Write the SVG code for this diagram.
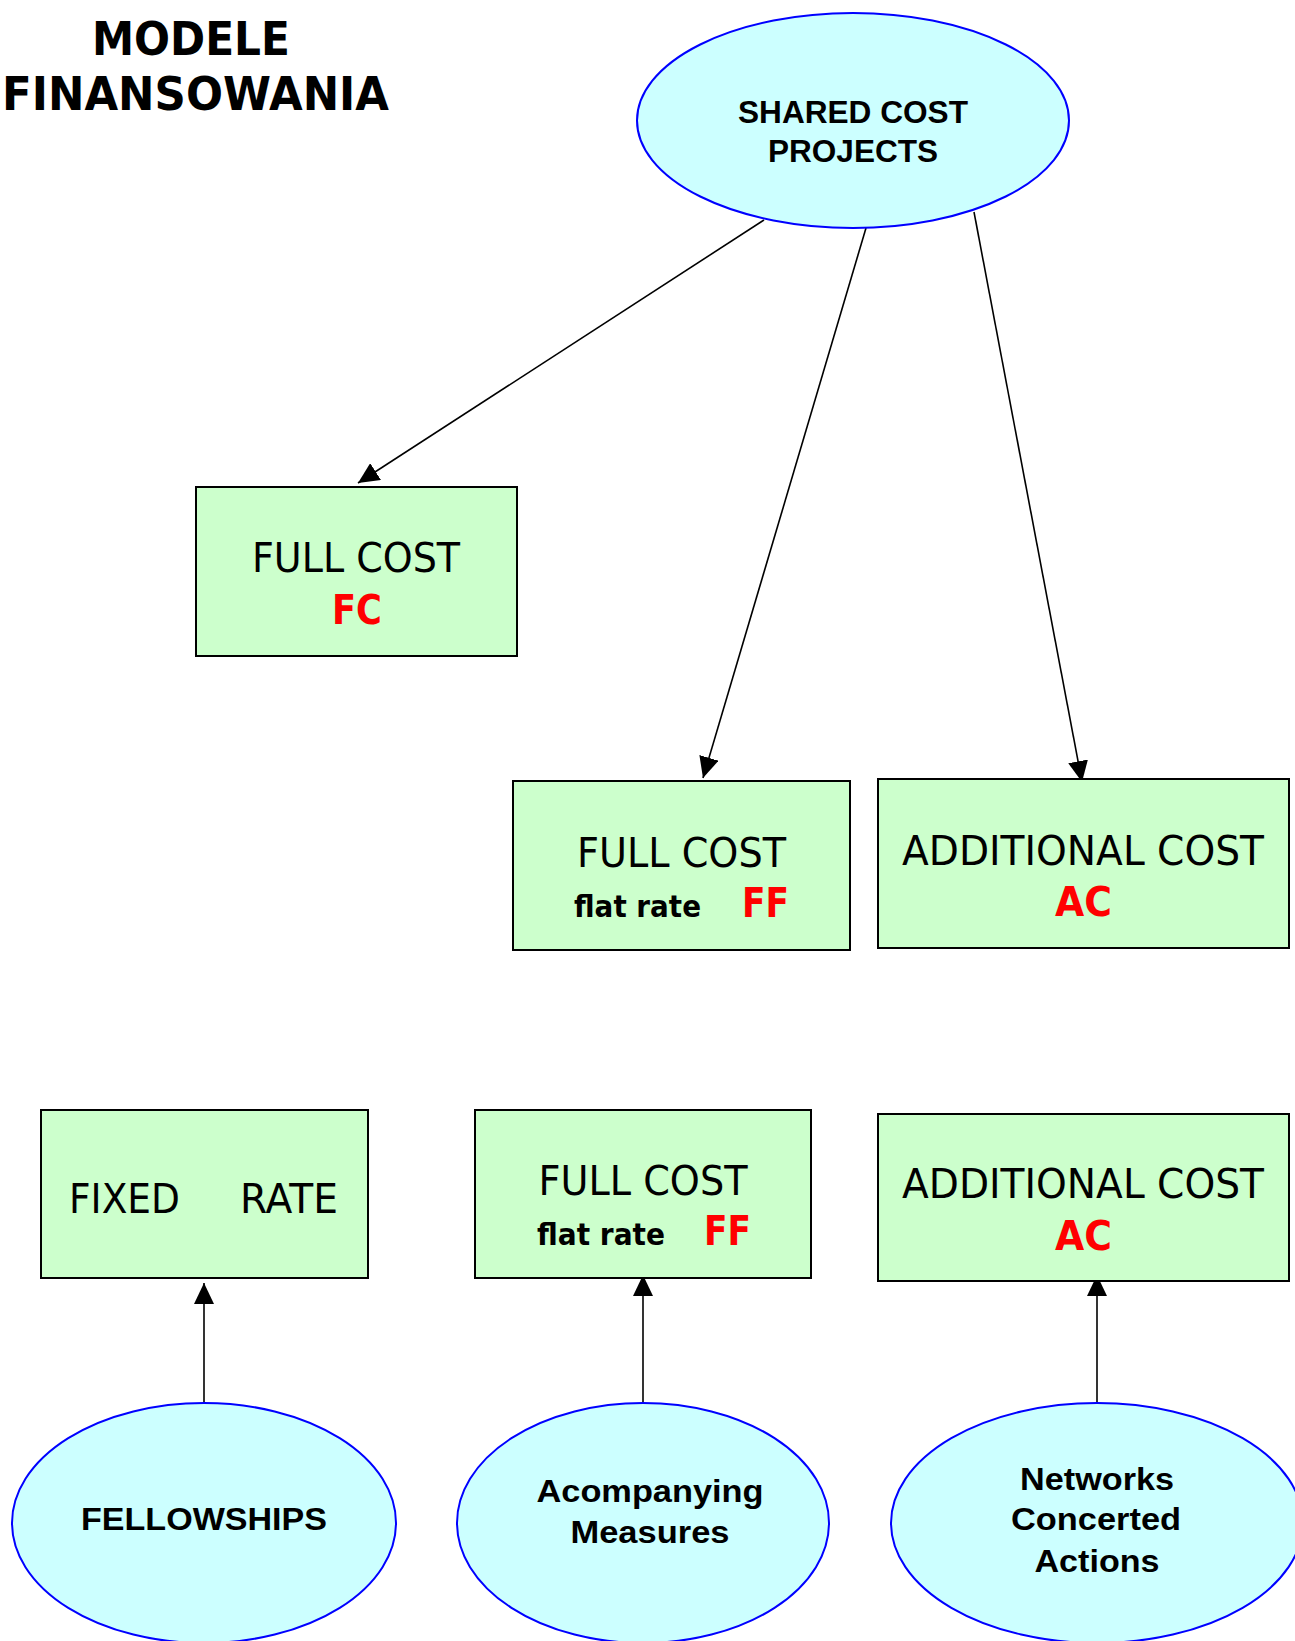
<svg xmlns="http://www.w3.org/2000/svg" width="1295" height="1641" viewBox="0 0 1295 1641">
<style>
.box{fill:#CCFFCC;stroke:#000;stroke-width:2}
.ell{fill:#CCFFFF;stroke:#0000FF;stroke-width:2}
.title{font-family:"DejaVu Sans",Verdana,sans-serif;font-weight:bold;font-size:46px;fill:#000;text-anchor:middle}
.et{font-family:"Liberation Sans",Arial,sans-serif;font-weight:bold;font-size:32px;fill:#000;text-anchor:middle}
.bt{font-family:"DejaVu Sans",Tahoma,sans-serif;font-size:41px;fill:#000;text-anchor:middle}
.red{font-family:"DejaVu Sans",Tahoma,sans-serif;font-weight:bold;font-size:41px;fill:#FF0000}
.fr{font-family:"DejaVu Sans",Tahoma,sans-serif;font-weight:bold;font-size:30px;fill:#000}
.conn{stroke:#000;stroke-width:1.6;fill:none;marker-end:url(#arr)}
</style>
<defs>
<marker id="arr" markerUnits="userSpaceOnUse" markerWidth="21" markerHeight="20" refX="21" refY="10" orient="auto">
<path d="M0,0 L21,10 L0,20 z" fill="#000"/>
</marker>
</defs>
<g id="title">
<text class="title" x="191" y="55" textLength="198" lengthAdjust="spacingAndGlyphs">MODELE</text>
<text class="title" style="text-anchor:start" x="2" y="110" textLength="387" lengthAdjust="spacingAndGlyphs">FINANSOWANIA</text>
</g>
<g id="connectors">
<line class="conn" x1="764" y1="220" x2="358" y2="483"/>
<line class="conn" x1="866" y1="228" x2="703" y2="778"/>
<line class="conn" x1="974" y1="212" x2="1082" y2="782"/>
<line class="conn" x1="204" y1="1403" x2="204" y2="1283"/>
<line class="conn" x1="643" y1="1403" x2="643" y2="1275"/>
<line class="conn" x1="1097" y1="1403" x2="1097" y2="1275"/>
</g>
<g id="shared-cost-projects">
<ellipse class="ell" cx="853" cy="120.5" rx="216" ry="107.5"/>
<text class="et" x="853" y="123" style="font-size:31.5px" textLength="230" lengthAdjust="spacingAndGlyphs">SHARED COST</text>
<text class="et" x="853" y="162" style="font-size:31.5px" textLength="170" lengthAdjust="spacingAndGlyphs">PROJECTS</text>
</g>
<g id="full-cost-fc">
<rect class="box" x="196" y="487" width="321" height="169"/>
<text class="bt" x="356" y="572" textLength="208" lengthAdjust="spacingAndGlyphs">FULL COST</text>
<text class="red" x="332" y="624" textLength="50" lengthAdjust="spacingAndGlyphs">FC</text>
</g>
<g id="full-cost-ff-1">
<rect class="box" x="513" y="781" width="337" height="169"/>
<text class="bt" x="681.5" y="867" textLength="209" lengthAdjust="spacingAndGlyphs">FULL COST</text>
<text class="fr" x="574" y="917" textLength="127" lengthAdjust="spacingAndGlyphs">flat rate</text>
<text class="red" x="742" y="917" textLength="47" lengthAdjust="spacingAndGlyphs">FF</text>
</g>
<g id="additional-cost-ac-1">
<rect class="box" x="878" y="779" width="411" height="169"/>
<text class="bt" x="1083" y="865" textLength="362" lengthAdjust="spacingAndGlyphs">ADDITIONAL COST</text>
<text class="red" x="1055" y="916" textLength="57" lengthAdjust="spacingAndGlyphs">AC</text>
</g>
<g id="fixed-rate">
<rect class="box" x="41" y="1110" width="327" height="168"/>
<text class="bt" style="text-anchor:start" y="1213"><tspan x="69" textLength="111" lengthAdjust="spacingAndGlyphs">FIXED</tspan><tspan x="240" textLength="98" lengthAdjust="spacingAndGlyphs">RATE</tspan></text>
</g>
<g id="full-cost-ff-2">
<rect class="box" x="475" y="1110" width="336" height="168"/>
<text class="bt" x="643" y="1195" textLength="209" lengthAdjust="spacingAndGlyphs">FULL COST</text>
<text class="fr" x="537" y="1245" textLength="128" lengthAdjust="spacingAndGlyphs">flat rate</text>
<text class="red" x="704" y="1245" textLength="47" lengthAdjust="spacingAndGlyphs">FF</text>
</g>
<g id="additional-cost-ac-2">
<rect class="box" x="878" y="1114" width="411" height="167"/>
<text class="bt" x="1083" y="1198" textLength="362" lengthAdjust="spacingAndGlyphs">ADDITIONAL COST</text>
<text class="red" x="1055" y="1250" textLength="57" lengthAdjust="spacingAndGlyphs">AC</text>
</g>
<g id="fellowships">
<ellipse class="ell" cx="204" cy="1523" rx="192" ry="120"/>
<text class="et" x="204" y="1530" textLength="246" lengthAdjust="spacingAndGlyphs">FELLOWSHIPS</text>
</g>
<g id="acompanying-measures">
<ellipse class="ell" cx="643" cy="1523" rx="186" ry="120"/>
<text class="et" x="650" y="1502" textLength="227" lengthAdjust="spacingAndGlyphs">Acompanying</text>
<text class="et" x="650" y="1543" textLength="159" lengthAdjust="spacingAndGlyphs">Measures</text>
</g>
<g id="networks-concerted-actions">
<ellipse class="ell" cx="1097" cy="1523" rx="206" ry="120"/>
<text class="et" x="1097" y="1490" textLength="154" lengthAdjust="spacingAndGlyphs">Networks</text>
<text class="et" x="1096" y="1530" textLength="170" lengthAdjust="spacingAndGlyphs">Concerted</text>
<text class="et" x="1097" y="1572" textLength="125" lengthAdjust="spacingAndGlyphs">Actions</text>
</g>
</svg>
